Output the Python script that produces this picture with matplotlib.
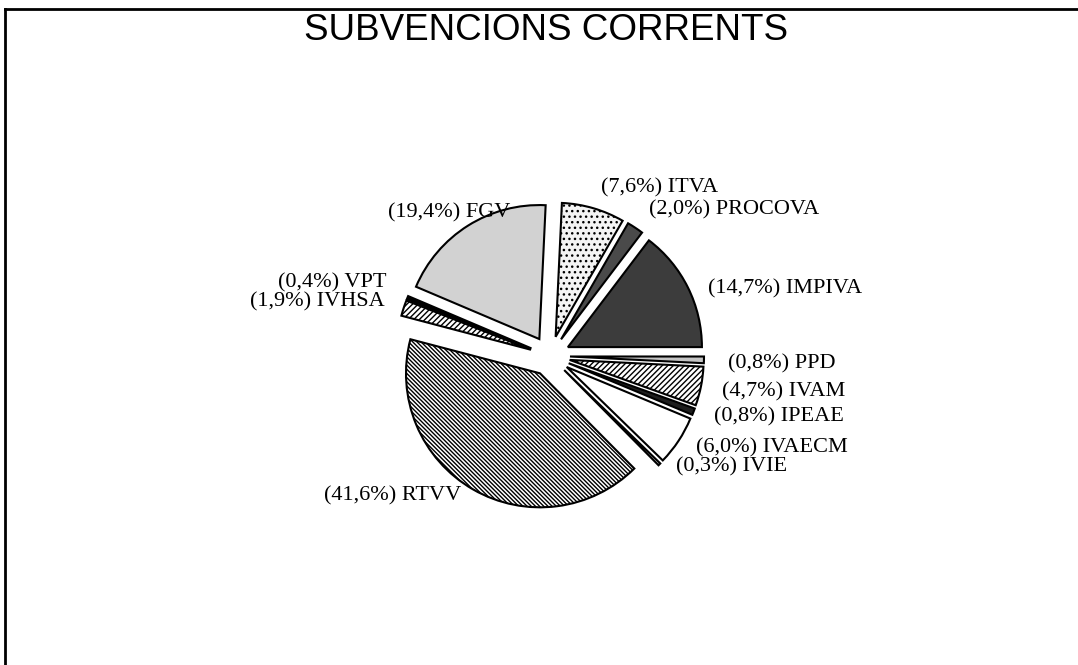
import matplotlib
matplotlib.use('Agg')
import matplotlib.pyplot as plt
from matplotlib.lines import Line2D
import numpy as np

# ---- data ----
title = 'SUBVENCIONS CORRENTS'
labels = ['IMPIVA', 'PROCOVA', 'ITVA', 'FGV', 'VPT', 'IVHSA', 'RTVV',
          'IVIE', 'IVAECM', 'IPEAE', 'IVAM', 'PPD']
values = [14.7, 2.0, 7.6, 19.4, 0.4, 1.9, 41.6, 0.3, 6.0, 0.8, 4.7, 0.8]

# ---- styles ----
facecolors = ['#3c3c3c', '#4a4a4a', '#f4f4f4', '#d2d2d2', '#000000', '#ffffff',
              '#ffffff', '#ffffff', '#ffffff', '#1e1e1e', '#ffffff', '#c4c4c4']
hatches = ['', '', '...', '', '', '//////', '\\' * 8,
           '', '', '', '//////', '']
haligns = ['left', 'left', 'left', 'center', 'right', 'right', 'right',
           'left', 'left', 'left', 'left', 'left']
# fine label nudges in screen pixels (dx right, dy down)
label_dx = [2, 3, 2, -8, -2, 0, -2, 2, 1, 2, 1, 4]
label_dy = [10, -1, -1, 4, -7, 0, -11, -12, -4, -2, 2, 3]

plt.rcParams['hatch.linewidth'] = 1.0

W, H = 1078, 665
fig = plt.figure(figsize=(W / 100, H / 100), dpi=100)
ax = fig.add_axes([0, 0, 1, 1])

cx, cy = 550, H - 356
R = 134
wedges, _ = ax.pie(values, radius=R, center=(cx, cy), startangle=0,
                   counterclock=True, explode=[20] * len(values),
                   colors=facecolors,
                   wedgeprops=dict(edgecolor='black', linewidth=1.5))
for w, h in zip(wedges, hatches):
    if h:
        w.set_hatch(h)

for w, lab, v, ha, dx, dy in zip(wedges, labels, values, haligns,
                                  label_dx, label_dy):
    th = np.deg2rad(0.5 * (w.theta1 + w.theta2))
    x0, y0 = w.center
    tx = x0 + 1.15 * R * np.cos(th) + dx
    ty = y0 + 1.15 * R * np.sin(th) - dy
    txt = '({}%) {}'.format(str(v).replace('.', ','), lab)
    ax.text(tx, ty, txt, ha=ha, va='center', fontsize=16,
            family='Liberation Serif', color='black')

ax.set_xlim(0, W)
ax.set_ylim(0, H)
ax.set_aspect('equal')
ax.axis('off')

# title and frame
fig.text((302 + 791) / 2 / W, 1 - 40 / H, title, ha='center', va='baseline',
         fontsize=26.5, family='Liberation Sans', color='black')
fig.add_artist(Line2D([5 / W, 1], [1 - 9 / H, 1 - 9 / H], color='black', lw=2))
fig.add_artist(Line2D([5 / W, 5 / W], [0, 1 - 9 / H], color='black', lw=2))

fig.savefig('out.png', dpi=100, facecolor='white')
